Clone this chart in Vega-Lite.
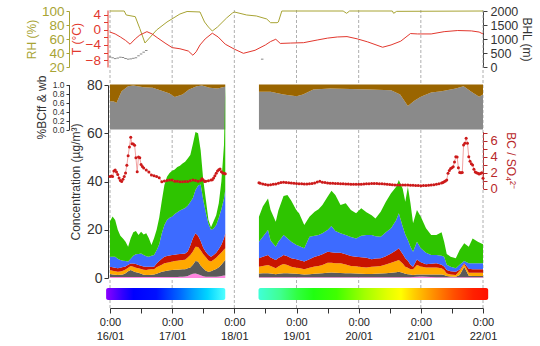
{
  "$schema": "https://vega.github.io/schema/vega-lite/v6.json",
  "width": 373,
  "height": 298,
  "autosize": "none",
  "padding": {"left": 110, "top": 10, "right": 57, "bottom": 38},
  "background": "white",
  "config": {
    "view": {"stroke": null},
    "font": "Liberation Sans",
    "axis": {"labelFont": "Liberation Sans", "titleFont": "Liberation Sans", "titleFontWeight": "normal", "grid": false, "labelFontSize": 13, "titleFontSize": 12}
  },
  "datasets": {
    "days": [
      {"t": "16/01 00:00"}, {"t": "17/01 00:00"}, {"t": "18/01 00:00"}, {"t": "19/01 00:00"},
      {"t": "20/01 00:00"}, {"t": "21/01 00:00"}, {"t": "22/01 00:00"}
    ],
    "rh": [
      {"t": "16/01 00:00", "rh": 100}, {"t": "16/01 05:30", "rh": 100}, {"t": "16/01 06:15", "rh": 94.3}, {"t": "16/01 09:45", "rh": 91.9},
      {"t": "16/01 11:30", "rh": 75}, {"t": "16/01 13:30", "rh": 54.3}, {"t": "16/01 18:00", "rh": 72.9}, {"t": "16/01 22:00", "rh": 84.3},
      {"t": "17/01 03:00", "rh": 95.7}, {"t": "17/01 05:45", "rh": 99.3}, {"t": "17/01 10:45", "rh": 98.6}, {"t": "17/01 12:30", "rh": 84.3},
      {"t": "17/01 14:00", "rh": 77.1}, {"t": "17/01 15:30", "rh": 71.4}, {"t": "17/01 17:30", "rh": 77.1}, {"t": "17/01 21:00", "rh": 90},
      {"t": "17/01 23:15", "rh": 97.1}, {"t": "18/01 00:00", "rh": 98.6}, {"t": "18/01 04:45", "rh": 94.3}, {"t": "18/01 08:30", "rh": 92.9},
      {"t": "18/01 12:30", "rh": 88.6}, {"t": "18/01 14:00", "rh": 83.3}, {"t": "18/01 16:30", "rh": 83.3}, {"t": "18/01 17:00", "rh": 84.3},
      {"t": "18/01 18:20", "rh": 100}, {"t": "19/01 18:00", "rh": 100}, {"t": "19/01 19:20", "rh": 96.7}, {"t": "19/01 20:30", "rh": 100},
      {"t": "20/01 13:00", "rh": 100}, {"t": "20/01 13:30", "rh": 96.7}, {"t": "20/01 14:40", "rh": 99.5}, {"t": "22/01 00:00", "rh": 100}
    ],
    "temp": [
      {"t": "16/01 00:00", "T": -0.6}, {"t": "16/01 02:00", "T": -1.1}, {"t": "16/01 04:00", "T": -1.9}, {"t": "16/01 06:00", "T": -2.8},
      {"t": "16/01 07:45", "T": -3.8}, {"t": "16/01 09:45", "T": -2.4}, {"t": "16/01 11:30", "T": -1.4}, {"t": "16/01 14:15", "T": -0.5},
      {"t": "16/01 16:15", "T": -1.1}, {"t": "16/01 18:30", "T": -2.2}, {"t": "16/01 21:15", "T": -3.5}, {"t": "17/01 00:00", "T": -4.7},
      {"t": "17/01 03:00", "T": -5.0}, {"t": "17/01 06:15", "T": -5.6}, {"t": "17/01 08:00", "T": -6.7}, {"t": "17/01 09:15", "T": -5.8},
      {"t": "17/01 10:45", "T": -4.0}, {"t": "17/01 12:45", "T": -2.4}, {"t": "17/01 15:30", "T": -0.9}, {"t": "17/01 17:45", "T": -1.9},
      {"t": "17/01 20:30", "T": -3.8}, {"t": "18/01 00:00", "T": -5.1}, {"t": "18/01 03:30", "T": -6.2}, {"t": "18/01 08:00", "T": -5.4},
      {"t": "18/01 12:00", "T": -4.0}, {"t": "18/01 14:00", "T": -3.1}, {"t": "18/01 16:00", "T": -2.5}, {"t": "18/01 17:45", "T": -3.6},
      {"t": "18/01 21:45", "T": -3.5}, {"t": "19/01 02:45", "T": -3.4}, {"t": "19/01 08:00", "T": -2.7}, {"t": "19/01 12:00", "T": -2.2},
      {"t": "19/01 15:45", "T": -1.9}, {"t": "19/01 19:30", "T": -1.8}, {"t": "19/01 23:30", "T": -2.4}, {"t": "20/01 03:30", "T": -3.2},
      {"t": "20/01 09:15", "T": -4.6}, {"t": "20/01 12:30", "T": -4.0}, {"t": "20/01 16:15", "T": -3.0}, {"t": "20/01 20:00", "T": -1.0},
      {"t": "20/01 22:45", "T": -1.1}, {"t": "21/01 04:00", "T": -1.1}, {"t": "21/01 09:00", "T": -0.5}, {"t": "21/01 14:15", "T": -0.2},
      {"t": "21/01 19:30", "T": -0.3}, {"t": "21/01 22:30", "T": -0.6}, {"t": "22/01 00:00", "T": -1.1}
    ],
    "bhl": [
      {"t": "16/01 00:00", "bhl": 360}, {"t": "16/01 01:00", "bhl": 330}, {"t": "16/01 02:00", "bhl": 300}, {"t": "16/01 03:00", "bhl": 320},
      {"t": "16/01 04:00", "bhl": 350}, {"t": "16/01 05:00", "bhl": 340}, {"t": "16/01 06:00", "bhl": 300}, {"t": "16/01 07:00", "bhl": 280},
      {"t": "16/01 08:00", "bhl": 290}, {"t": "16/01 09:00", "bhl": 310}, {"t": "16/01 10:00", "bhl": 330}, {"t": "16/01 11:00", "bhl": 400},
      {"t": "16/01 12:00", "bhl": 460}, {"t": "16/01 13:00", "bhl": 530}, {"t": "16/01 14:00", "bhl": 590}, {"t": "18/01 10:45", "bhl": 280}
    ],
    "bcA": [
      {"t": "16/01 00:00", "ff": 0.63, "wb": 0.37}, {"t": "16/01 01:30", "ff": 0.62, "wb": 0.38}, {"t": "16/01 02:30", "ff": 0.59, "wb": 0.41},
      {"t": "16/01 03:30", "ff": 0.72, "wb": 0.28}, {"t": "16/01 04:30", "ff": 0.85, "wb": 0.15}, {"t": "16/01 07:00", "ff": 0.96, "wb": 0.04},
      {"t": "16/01 09:00", "ff": 0.98, "wb": 0.02}, {"t": "16/01 13:00", "ff": 0.94, "wb": 0.06}, {"t": "16/01 16:30", "ff": 0.93, "wb": 0.07},
      {"t": "16/01 20:30", "ff": 0.85, "wb": 0.15}, {"t": "16/01 23:00", "ff": 0.80, "wb": 0.20}, {"t": "17/01 01:00", "ff": 0.72, "wb": 0.28},
      {"t": "17/01 04:00", "ff": 0.78, "wb": 0.22}, {"t": "17/01 06:30", "ff": 0.89, "wb": 0.11}, {"t": "17/01 09:30", "ff": 0.96, "wb": 0.04},
      {"t": "17/01 11:30", "ff": 0.98, "wb": 0.02}, {"t": "17/01 14:30", "ff": 0.93, "wb": 0.07}, {"t": "17/01 17:30", "ff": 0.91, "wb": 0.09},
      {"t": "17/01 19:30", "ff": 0.94, "wb": 0.06}, {"t": "17/01 20:30", "ff": 0.95, "wb": 0.05}
    ],
    "bcB": [
      {"t": "18/01 09:30", "ff": 0.84, "wb": 0.16}, {"t": "18/01 14:00", "ff": 0.84, "wb": 0.16}, {"t": "18/01 19:00", "ff": 0.78, "wb": 0.22},
      {"t": "19/01 00:00", "ff": 0.74, "wb": 0.26}, {"t": "19/01 02:30", "ff": 0.78, "wb": 0.22}, {"t": "19/01 06:30", "ff": 0.89, "wb": 0.11},
      {"t": "19/01 13:00", "ff": 0.91, "wb": 0.09}, {"t": "19/01 21:00", "ff": 0.90, "wb": 0.10}, {"t": "20/01 04:30", "ff": 0.89, "wb": 0.11},
      {"t": "20/01 12:30", "ff": 0.87, "wb": 0.13}, {"t": "20/01 16:00", "ff": 0.78, "wb": 0.22}, {"t": "20/01 19:00", "ff": 0.52, "wb": 0.48},
      {"t": "20/01 21:30", "ff": 0.64, "wb": 0.36}, {"t": "21/01 00:00", "ff": 0.73, "wb": 0.27}, {"t": "21/01 04:00", "ff": 0.82, "wb": 0.18},
      {"t": "21/01 08:00", "ff": 0.85, "wb": 0.15}, {"t": "21/01 13:30", "ff": 0.91, "wb": 0.09}, {"t": "21/01 16:30", "ff": 0.96, "wb": 0.04},
      {"t": "21/01 19:30", "ff": 0.84, "wb": 0.16}, {"t": "21/01 22:30", "ff": 0.73, "wb": 0.27}, {"t": "22/01 00:00", "ff": 0.78, "wb": 0.22}
    ],
    "species": [
      {"species": "Chl", "rank": 1}, {"species": "BC", "rank": 2}, {"species": "NH4", "rank": 3},
      {"species": "SO4", "rank": 4}, {"species": "NO3", "rank": 5}, {"species": "Org", "rank": 6}
    ],
    "aerA": [
      {"t": "16/01 00:00", "Chl": 0.4, "BC": 1.3, "NH4": 1.6, "SO4": 1.4, "NO3": 4.1, "Org": 14.7},
      {"t": "16/01 01:00", "Chl": 0.4, "BC": 1.1, "NH4": 1.5, "SO4": 1.5, "NO3": 4.3, "Org": 16.7},
      {"t": "16/01 02:00", "Chl": 0.4, "BC": 0.9, "NH4": 1.5, "SO4": 1.4, "NO3": 4.6, "Org": 15.2},
      {"t": "16/01 03:00", "Chl": 0.4, "BC": 0.8, "NH4": 1.4, "SO4": 1.4, "NO3": 4.0, "Org": 12.0},
      {"t": "16/01 04:00", "Chl": 0.4, "BC": 0.9, "NH4": 1.4, "SO4": 1.5, "NO3": 3.3, "Org": 10.0},
      {"t": "16/01 05:00", "Chl": 0.4, "BC": 1.1, "NH4": 1.5, "SO4": 1.6, "NO3": 2.6, "Org": 9.2},
      {"t": "16/01 06:00", "Chl": 0.4, "BC": 1.6, "NH4": 1.5, "SO4": 1.3, "NO3": 2.2, "Org": 8.0},
      {"t": "16/01 07:00", "Chl": 0.4, "BC": 2.4, "NH4": 1.5, "SO4": 1.2, "NO3": 1.3, "Org": 6.2},
      {"t": "16/01 08:00", "Chl": 0.4, "BC": 2.9, "NH4": 1.7, "SO4": 1.0, "NO3": 2.0, "Org": 8.5},
      {"t": "16/01 09:00", "Chl": 0.4, "BC": 2.4, "NH4": 1.9, "SO4": 1.3, "NO3": 3.2, "Org": 9.8},
      {"t": "16/01 10:00", "Chl": 0.4, "BC": 2.0, "NH4": 1.9, "SO4": 1.5, "NO3": 4.0, "Org": 9.7},
      {"t": "16/01 11:00", "Chl": 0.4, "BC": 1.8, "NH4": 1.8, "SO4": 1.4, "NO3": 4.6, "Org": 7.8},
      {"t": "16/01 12:00", "Chl": 0.4, "BC": 1.4, "NH4": 1.9, "SO4": 1.4, "NO3": 5.1, "Org": 9.0},
      {"t": "16/01 13:00", "Chl": 0.4, "BC": 0.9, "NH4": 2.1, "SO4": 1.4, "NO3": 4.7, "Org": 8.5},
      {"t": "16/01 14:00", "Chl": 0.4, "BC": 0.8, "NH4": 2.1, "SO4": 1.4, "NO3": 4.3, "Org": 9.5},
      {"t": "16/01 15:00", "Chl": 0.4, "BC": 0.8, "NH4": 2.3, "SO4": 1.2, "NO3": 4.1, "Org": 7.7},
      {"t": "16/01 16:00", "Chl": 0.4, "BC": 0.9, "NH4": 2.3, "SO4": 1.1, "NO3": 4.5, "Org": 4.5},
      {"t": "16/01 17:00", "Chl": 0.4, "BC": 1.1, "NH4": 2.1, "SO4": 1.1, "NO3": 4.8, "Org": 7.0},
      {"t": "16/01 18:00", "Chl": 0.4, "BC": 1.4, "NH4": 2.7, "SO4": 1.5, "NO3": 5.5, "Org": 8.5},
      {"t": "16/01 19:00", "Chl": 0.4, "BC": 1.8, "NH4": 2.8, "SO4": 2.0, "NO3": 7.0, "Org": 11.0},
      {"t": "16/01 20:00", "Chl": 0.4, "BC": 2.2, "NH4": 2.9, "SO4": 2.5, "NO3": 10.5, "Org": 13.5},
      {"t": "16/01 21:00", "Chl": 0.4, "BC": 2.4, "NH4": 3.3, "SO4": 2.7, "NO3": 13.2, "Org": 16.5},
      {"t": "16/01 22:00", "Chl": 0.4, "BC": 2.6, "NH4": 3.3, "SO4": 2.8, "NO3": 14.9, "Org": 18.0},
      {"t": "16/01 23:00", "Chl": 0.4, "BC": 2.8, "NH4": 3.3, "SO4": 2.8, "NO3": 15.7, "Org": 18.5},
      {"t": "17/01 00:00", "Chl": 0.4, "BC": 2.9, "NH4": 3.5, "SO4": 2.7, "NO3": 16.0, "Org": 19.0},
      {"t": "17/01 01:00", "Chl": 0.4, "BC": 3.0, "NH4": 3.6, "SO4": 2.6, "NO3": 16.9, "Org": 18.5},
      {"t": "17/01 02:00", "Chl": 0.4, "BC": 3.0, "NH4": 3.8, "SO4": 2.6, "NO3": 17.5, "Org": 18.7},
      {"t": "17/01 03:00", "Chl": 0.5, "BC": 3.0, "NH4": 3.9, "SO4": 2.6, "NO3": 18.0, "Org": 18.5},
      {"t": "17/01 04:00", "Chl": 0.5, "BC": 3.1, "NH4": 3.9, "SO4": 2.6, "NO3": 18.4, "Org": 19.0},
      {"t": "17/01 05:00", "Chl": 0.6, "BC": 3.0, "NH4": 4.0, "SO4": 2.6, "NO3": 18.8, "Org": 19.2},
      {"t": "17/01 06:00", "Chl": 0.8, "BC": 3.2, "NH4": 4.5, "SO4": 2.5, "NO3": 19.0, "Org": 19.5},
      {"t": "17/01 07:00", "Chl": 1.3, "BC": 3.1, "NH4": 5.1, "SO4": 4.0, "NO3": 18.0, "Org": 19.5},
      {"t": "17/01 08:00", "Chl": 1.8, "BC": 3.7, "NH4": 5.5, "SO4": 5.5, "NO3": 16.7, "Org": 22.3},
      {"t": "17/01 09:00", "Chl": 1.9, "BC": 5.1, "NH4": 6.0, "SO4": 5.5, "NO3": 18.0, "Org": 24.0},
      {"t": "17/01 10:00", "Chl": 1.6, "BC": 5.2, "NH4": 6.0, "SO4": 4.7, "NO3": 20.8, "Org": 21.7},
      {"t": "17/01 11:00", "Chl": 1.1, "BC": 4.1, "NH4": 6.3, "SO4": 3.8, "NO3": 23.5, "Org": 14.2},
      {"t": "17/01 12:00", "Chl": 0.7, "BC": 3.3, "NH4": 5.8, "SO4": 2.7, "NO3": 19.8, "Org": 8.3},
      {"t": "17/01 13:00", "Chl": 0.5, "BC": 2.5, "NH4": 5.6, "SO4": 2.2, "NO3": 16.2, "Org": 5.5},
      {"t": "17/01 14:00", "Chl": 0.5, "BC": 2.1, "NH4": 4.7, "SO4": 2.2, "NO3": 13.0, "Org": 1.5},
      {"t": "17/01 15:00", "Chl": 0.5, "BC": 2.3, "NH4": 4.0, "SO4": 2.0, "NO3": 11.2, "Org": 1.0},
      {"t": "17/01 16:00", "Chl": 0.5, "BC": 2.8, "NH4": 4.3, "SO4": 1.9, "NO3": 11.0, "Org": 3.0},
      {"t": "17/01 17:00", "Chl": 0.5, "BC": 3.2, "NH4": 4.7, "SO4": 2.1, "NO3": 11.5, "Org": 4.0},
      {"t": "17/01 18:00", "Chl": 0.6, "BC": 3.9, "NH4": 5.0, "SO4": 2.5, "NO3": 13.0, "Org": 6.0},
      {"t": "17/01 19:00", "Chl": 0.8, "BC": 4.7, "NH4": 5.1, "SO4": 3.2, "NO3": 14.7, "Org": 11.5},
      {"t": "17/01 20:00", "Chl": 1.0, "BC": 5.8, "NH4": 5.0, "SO4": 4.7, "NO3": 16.5, "Org": 22.0},
      {"t": "17/01 20:30", "Chl": 1.0, "BC": 6.5, "NH4": 4.8, "SO4": 6.2, "NO3": 18.0, "Org": 43.5}
    ],
    "aerB": [
      {"t": "18/01 09:30", "Chl": 0.3, "BC": 1.6, "NH4": 2.8, "SO4": 3.5, "NO3": 6.8, "Org": 10.4},
      {"t": "18/01 11:00", "Chl": 0.3, "BC": 1.7, "NH4": 3.0, "SO4": 3.8, "NO3": 8.3, "Org": 12.5},
      {"t": "18/01 13:00", "Chl": 0.3, "BC": 1.7, "NH4": 3.4, "SO4": 4.1, "NO3": 10.4, "Org": 13.1},
      {"t": "18/01 14:00", "Chl": 0.3, "BC": 1.6, "NH4": 3.1, "SO4": 3.5, "NO3": 7.0, "Org": 12.7},
      {"t": "18/01 16:00", "Chl": 0.3, "BC": 1.3, "NH4": 2.4, "SO4": 3.5, "NO3": 5.5, "Org": 10.3},
      {"t": "18/01 17:00", "Chl": 0.3, "BC": 1.5, "NH4": 3.0, "SO4": 3.5, "NO3": 6.7, "Org": 13.0},
      {"t": "18/01 18:00", "Chl": 0.3, "BC": 1.6, "NH4": 3.5, "SO4": 3.4, "NO3": 7.6, "Org": 14.6},
      {"t": "18/01 19:00", "Chl": 0.3, "BC": 1.7, "NH4": 3.8, "SO4": 3.7, "NO3": 8.3, "Org": 16.2},
      {"t": "18/01 20:30", "Chl": 0.3, "BC": 1.7, "NH4": 3.4, "SO4": 3.6, "NO3": 7.5, "Org": 17.9},
      {"t": "18/01 22:00", "Chl": 0.3, "BC": 1.6, "NH4": 2.8, "SO4": 3.5, "NO3": 6.8, "Org": 17.0},
      {"t": "19/01 00:00", "Chl": 0.3, "BC": 1.5, "NH4": 2.5, "SO4": 3.5, "NO3": 5.9, "Org": 14.3},
      {"t": "19/01 01:00", "Chl": 0.3, "BC": 1.4, "NH4": 2.4, "SO4": 3.4, "NO3": 5.8, "Org": 13.5},
      {"t": "19/01 03:00", "Chl": 0.3, "BC": 1.2, "NH4": 2.1, "SO4": 3.2, "NO3": 5.5, "Org": 9.7},
      {"t": "19/01 05:00", "Chl": 0.3, "BC": 1.3, "NH4": 2.7, "SO4": 3.5, "NO3": 9.3, "Org": 8.3},
      {"t": "19/01 07:00", "Chl": 0.3, "BC": 1.5, "NH4": 3.0, "SO4": 4.0, "NO3": 8.7, "Org": 10.0},
      {"t": "19/01 08:30", "Chl": 0.3, "BC": 1.6, "NH4": 3.1, "SO4": 4.2, "NO3": 8.6, "Org": 10.7},
      {"t": "19/01 10:00", "Chl": 0.3, "BC": 1.7, "NH4": 3.4, "SO4": 4.4, "NO3": 8.7, "Org": 11.8},
      {"t": "19/01 12:00", "Chl": 0.3, "BC": 1.9, "NH4": 4.1, "SO4": 4.6, "NO3": 9.0, "Org": 13.8},
      {"t": "19/01 13:30", "Chl": 0.3, "BC": 2.0, "NH4": 4.0, "SO4": 4.4, "NO3": 10.9, "Org": 14.6},
      {"t": "19/01 15:00", "Chl": 0.3, "BC": 1.9, "NH4": 3.9, "SO4": 4.4, "NO3": 9.0, "Org": 14.9},
      {"t": "19/01 17:00", "Chl": 0.3, "BC": 1.8, "NH4": 4.0, "SO4": 4.4, "NO3": 8.0, "Org": 11.8},
      {"t": "19/01 19:00", "Chl": 0.3, "BC": 1.7, "NH4": 3.6, "SO4": 4.2, "NO3": 8.0, "Org": 13.2},
      {"t": "19/01 21:00", "Chl": 0.3, "BC": 1.7, "NH4": 3.0, "SO4": 4.1, "NO3": 7.9, "Org": 11.2},
      {"t": "19/01 23:00", "Chl": 0.3, "BC": 1.6, "NH4": 3.0, "SO4": 3.9, "NO3": 7.6, "Org": 10.4},
      {"t": "20/01 01:00", "Chl": 0.3, "BC": 1.5, "NH4": 2.8, "SO4": 4.0, "NO3": 8.9, "Org": 11.4},
      {"t": "20/01 03:00", "Chl": 0.3, "BC": 1.4, "NH4": 2.7, "SO4": 4.0, "NO3": 9.4, "Org": 9.5},
      {"t": "20/01 05:00", "Chl": 0.3, "BC": 1.4, "NH4": 3.0, "SO4": 3.1, "NO3": 10.0, "Org": 8.2},
      {"t": "20/01 06:30", "Chl": 0.3, "BC": 1.5, "NH4": 3.0, "SO4": 3.3, "NO3": 9.2, "Org": 7.4},
      {"t": "20/01 08:30", "Chl": 0.3, "BC": 1.6, "NH4": 3.1, "SO4": 3.2, "NO3": 8.9, "Org": 10.4},
      {"t": "20/01 10:30", "Chl": 0.3, "BC": 1.7, "NH4": 3.6, "SO4": 3.4, "NO3": 10.0, "Org": 12.6},
      {"t": "20/01 12:30", "Chl": 0.3, "BC": 1.9, "NH4": 4.1, "SO4": 3.9, "NO3": 10.4, "Org": 14.5},
      {"t": "20/01 14:30", "Chl": 0.3, "BC": 2.1, "NH4": 4.6, "SO4": 4.5, "NO3": 12.5, "Org": 13.8},
      {"t": "20/01 15:30", "Chl": 0.3, "BC": 2.3, "NH4": 4.9, "SO4": 4.8, "NO3": 14.5, "Org": 13.8},
      {"t": "20/01 17:00", "Chl": 0.3, "BC": 1.9, "NH4": 3.8, "SO4": 4.0, "NO3": 11.3, "Org": 15.7},
      {"t": "20/01 18:00", "Chl": 0.3, "BC": 1.5, "NH4": 2.9, "SO4": 3.5, "NO3": 9.8, "Org": 13.6},
      {"t": "20/01 19:00", "Chl": 0.3, "BC": 1.3, "NH4": 2.6, "SO4": 3.0, "NO3": 8.5, "Org": 22.1},
      {"t": "20/01 20:00", "Chl": 0.3, "BC": 1.1, "NH4": 2.2, "SO4": 1.9, "NO3": 7.5, "Org": 18.0},
      {"t": "20/01 21:00", "Chl": 0.4, "BC": 0.8, "NH4": 2.4, "SO4": 1.1, "NO3": 6.2, "Org": 11.8},
      {"t": "20/01 22:30", "Chl": 0.5, "BC": 1.0, "NH4": 3.9, "SO4": 2.3, "NO3": 7.3, "Org": 13.2},
      {"t": "21/01 00:00", "Chl": 0.6, "BC": 0.9, "NH4": 3.3, "SO4": 1.7, "NO3": 5.8, "Org": 13.1},
      {"t": "21/01 02:00", "Chl": 0.5, "BC": 1.0, "NH4": 2.9, "SO4": 1.3, "NO3": 4.8, "Org": 10.1},
      {"t": "21/01 04:00", "Chl": 0.4, "BC": 1.1, "NH4": 2.9, "SO4": 1.5, "NO3": 3.6, "Org": 8.3},
      {"t": "21/01 06:00", "Chl": 0.3, "BC": 1.2, "NH4": 2.9, "SO4": 1.7, "NO3": 3.4, "Org": 8.3},
      {"t": "21/01 08:00", "Chl": 0.3, "BC": 1.1, "NH4": 2.6, "SO4": 1.5, "NO3": 3.7, "Org": 9.8},
      {"t": "21/01 09:00", "Chl": 0.3, "BC": 0.9, "NH4": 2.1, "SO4": 1.5, "NO3": 4.0, "Org": 6.2},
      {"t": "21/01 10:00", "Chl": 0.3, "BC": 0.5, "NH4": 1.1, "SO4": 1.4, "NO3": 2.2, "Org": 4.5},
      {"t": "21/01 11:30", "Chl": 0.3, "BC": 0.3, "NH4": 0.9, "SO4": 1.3, "NO3": 1.9, "Org": 4.1},
      {"t": "21/01 13:30", "Chl": 0.3, "BC": 0.2, "NH4": 0.7, "SO4": 1.4, "NO3": 1.4, "Org": 4.2},
      {"t": "21/01 15:00", "Chl": 0.3, "BC": 0.9, "NH4": 1.8, "SO4": 0.5, "NO3": 2.0, "Org": 6.1},
      {"t": "21/01 16:45", "Chl": 0.3, "BC": 4.4, "NH4": 1.1, "SO4": 0.4, "NO3": 0.8, "Org": 7.4},
      {"t": "21/01 18:30", "Chl": 0.3, "BC": 0.6, "NH4": 1.3, "SO4": 1.6, "NO3": 2.3, "Org": 6.9},
      {"t": "21/01 20:00", "Chl": 0.3, "BC": 0.5, "NH4": 1.4, "SO4": 1.4, "NO3": 2.5, "Org": 10.3},
      {"t": "21/01 22:00", "Chl": 0.3, "BC": 0.5, "NH4": 1.4, "SO4": 1.4, "NO3": 2.5, "Org": 8.9},
      {"t": "22/01 00:00", "Chl": 0.3, "BC": 0.5, "NH4": 1.4, "SO4": 1.4, "NO3": 2.5, "Org": 7.9}
    ],
    "ratioA": [
      {"t": "16/01 00:00", "r": 1.5}, {"t": "16/01 00:30", "r": 1.55}, {"t": "16/01 01:00", "r": 1.5}, {"t": "16/01 01:30", "r": 2.2},
      {"t": "16/01 02:00", "r": 2.3}, {"t": "16/01 02:30", "r": 2.05}, {"t": "16/01 03:00", "r": 1.75}, {"t": "16/01 03:30", "r": 1.3},
      {"t": "16/01 04:00", "r": 1.0}, {"t": "16/01 04:30", "r": 0.88}, {"t": "16/01 05:00", "r": 1.15}, {"t": "16/01 05:30", "r": 1.5},
      {"t": "16/01 06:00", "r": 1.95}, {"t": "16/01 06:30", "r": 2.9}, {"t": "16/01 07:00", "r": 4.1}, {"t": "16/01 07:30", "r": 5.2},
      {"t": "16/01 08:00", "r": 6.4}, {"t": "16/01 08:30", "r": 5.6}, {"t": "16/01 09:00", "r": 5.55}, {"t": "16/01 09:30", "r": 5.4},
      {"t": "16/01 10:00", "r": 3.85}, {"t": "16/01 10:30", "r": 2.1}, {"t": "16/01 11:00", "r": 3.95}, {"t": "16/01 11:30", "r": 3.85},
      {"t": "16/01 12:00", "r": 3.0}, {"t": "16/01 12:30", "r": 2.75}, {"t": "16/01 13:00", "r": 2.55}, {"t": "16/01 14:00", "r": 2.3},
      {"t": "16/01 15:00", "r": 2.05}, {"t": "16/01 16:00", "r": 1.7}, {"t": "16/01 17:00", "r": 1.6}, {"t": "16/01 18:00", "r": 1.5},
      {"t": "16/01 19:00", "r": 1.35}, {"t": "16/01 20:00", "r": 0.85}, {"t": "16/01 21:00", "r": 0.95}, {"t": "16/01 22:00", "r": 1.0},
      {"t": "16/01 23:00", "r": 1.05}, {"t": "17/01 00:00", "r": 1.05}, {"t": "17/01 01:00", "r": 0.92}, {"t": "17/01 02:00", "r": 0.9},
      {"t": "17/01 03:00", "r": 0.85}, {"t": "17/01 04:00", "r": 0.84}, {"t": "17/01 05:00", "r": 0.86}, {"t": "17/01 06:00", "r": 0.88},
      {"t": "17/01 07:00", "r": 0.98}, {"t": "17/01 08:00", "r": 1.05}, {"t": "17/01 09:00", "r": 1.0}, {"t": "17/01 10:00", "r": 0.92},
      {"t": "17/01 11:00", "r": 1.0}, {"t": "17/01 11:30", "r": 1.22}, {"t": "17/01 12:00", "r": 1.05}, {"t": "17/01 12:30", "r": 0.88},
      {"t": "17/01 13:00", "r": 0.9}, {"t": "17/01 14:00", "r": 0.97}, {"t": "17/01 15:00", "r": 1.05}, {"t": "17/01 15:30", "r": 1.1},
      {"t": "17/01 16:00", "r": 1.3}, {"t": "17/01 16:30", "r": 1.6}, {"t": "17/01 17:00", "r": 1.9}, {"t": "17/01 17:30", "r": 2.2},
      {"t": "17/01 18:00", "r": 2.35}, {"t": "17/01 18:30", "r": 2.45}, {"t": "17/01 19:00", "r": 2.1}, {"t": "17/01 19:30", "r": 1.95},
      {"t": "17/01 20:00", "r": 1.9}, {"t": "17/01 20:30", "r": 1.85}
    ],
    "ratioB": [
      {"t": "18/01 09:30", "r": 0.73}, {"t": "18/01 10:00", "r": 0.65}, {"t": "18/01 11:00", "r": 0.55}, {"t": "18/01 12:00", "r": 0.5},
      {"t": "18/01 13:00", "r": 0.45}, {"t": "18/01 14:00", "r": 0.48}, {"t": "18/01 15:00", "r": 0.52}, {"t": "18/01 16:00", "r": 0.56},
      {"t": "18/01 17:00", "r": 0.65}, {"t": "18/01 18:00", "r": 0.75}, {"t": "18/01 19:00", "r": 0.77}, {"t": "18/01 20:00", "r": 0.75},
      {"t": "18/01 21:00", "r": 0.73}, {"t": "18/01 22:00", "r": 0.7}, {"t": "18/01 23:00", "r": 0.66}, {"t": "19/01 00:00", "r": 0.64},
      {"t": "19/01 01:00", "r": 0.6}, {"t": "19/01 02:00", "r": 0.58}, {"t": "19/01 03:00", "r": 0.56}, {"t": "19/01 04:00", "r": 0.56},
      {"t": "19/01 05:00", "r": 0.6}, {"t": "19/01 06:00", "r": 0.64}, {"t": "19/01 07:00", "r": 0.68}, {"t": "19/01 08:00", "r": 0.8},
      {"t": "19/01 09:00", "r": 0.9}, {"t": "19/01 10:00", "r": 0.77}, {"t": "19/01 11:00", "r": 0.74}, {"t": "19/01 12:00", "r": 0.7},
      {"t": "19/01 13:00", "r": 0.67}, {"t": "19/01 14:00", "r": 0.65}, {"t": "19/01 15:00", "r": 0.63}, {"t": "19/01 16:00", "r": 0.62},
      {"t": "19/01 17:00", "r": 0.6}, {"t": "19/01 18:00", "r": 0.6}, {"t": "19/01 19:00", "r": 0.57}, {"t": "19/01 20:00", "r": 0.55},
      {"t": "19/01 21:00", "r": 0.53}, {"t": "19/01 22:00", "r": 0.52}, {"t": "19/01 23:00", "r": 0.52}, {"t": "20/01 00:00", "r": 0.52},
      {"t": "20/01 01:00", "r": 0.52}, {"t": "20/01 02:00", "r": 0.55}, {"t": "20/01 03:00", "r": 0.58}, {"t": "20/01 04:00", "r": 0.6},
      {"t": "20/01 05:00", "r": 0.62}, {"t": "20/01 06:00", "r": 0.64}, {"t": "20/01 07:00", "r": 0.64}, {"t": "20/01 08:00", "r": 0.6},
      {"t": "20/01 09:00", "r": 0.58}, {"t": "20/01 10:00", "r": 0.56}, {"t": "20/01 11:00", "r": 0.53}, {"t": "20/01 12:00", "r": 0.5},
      {"t": "20/01 13:00", "r": 0.47}, {"t": "20/01 14:00", "r": 0.44}, {"t": "20/01 15:00", "r": 0.44}, {"t": "20/01 16:00", "r": 0.43},
      {"t": "20/01 17:00", "r": 0.44}, {"t": "20/01 18:00", "r": 0.44}, {"t": "20/01 19:00", "r": 0.44}, {"t": "20/01 20:00", "r": 0.42},
      {"t": "20/01 21:00", "r": 0.4}, {"t": "20/01 22:00", "r": 0.38}, {"t": "20/01 23:00", "r": 0.36}, {"t": "21/01 00:00", "r": 0.35},
      {"t": "21/01 01:00", "r": 0.37}, {"t": "21/01 02:00", "r": 0.38}, {"t": "21/01 03:00", "r": 0.4}, {"t": "21/01 04:00", "r": 0.44},
      {"t": "21/01 05:00", "r": 0.48}, {"t": "21/01 06:00", "r": 0.54}, {"t": "21/01 07:00", "r": 0.6}, {"t": "21/01 08:00", "r": 0.68},
      {"t": "21/01 08:30", "r": 0.75}, {"t": "21/01 09:00", "r": 0.85}, {"t": "21/01 09:30", "r": 0.95}, {"t": "21/01 10:00", "r": 1.06},
      {"t": "21/01 10:30", "r": 1.9}, {"t": "21/01 11:00", "r": 2.25}, {"t": "21/01 11:30", "r": 2.5}, {"t": "21/01 12:00", "r": 2.6},
      {"t": "21/01 12:30", "r": 2.73}, {"t": "21/01 13:00", "r": 3.3}, {"t": "21/01 13:30", "r": 3.98}, {"t": "21/01 14:00", "r": 3.95},
      {"t": "21/01 14:30", "r": 2.6}, {"t": "21/01 15:00", "r": 2.0}, {"t": "21/01 15:30", "r": 1.98}, {"t": "21/01 16:00", "r": 2.0},
      {"t": "21/01 16:30", "r": 5.44}, {"t": "21/01 17:00", "r": 5.65}, {"t": "21/01 17:30", "r": 6.27}, {"t": "21/01 18:00", "r": 5.65},
      {"t": "21/01 18:30", "r": 3.98}, {"t": "21/01 19:00", "r": 3.4}, {"t": "21/01 19:30", "r": 3.1}, {"t": "21/01 20:00", "r": 2.94},
      {"t": "21/01 20:30", "r": 2.4}, {"t": "21/01 21:00", "r": 2.05}, {"t": "21/01 21:30", "r": 1.98}, {"t": "21/01 22:00", "r": 1.9},
      {"t": "21/01 22:30", "r": 1.8}, {"t": "21/01 23:00", "r": 1.88}, {"t": "21/01 23:30", "r": 1.98}, {"t": "22/01 00:00", "r": 1.27}
    ],
    "periodA": [{"t": "15/01 22:30", "t2": "17/01 20:30"}],
    "periodB": [{"t": "18/01 09:20", "t2": "22/01 02:00"}]
  },
  "encoding": {
    "x": {
      "field": "t",
      "type": "temporal",
      "scale": {"type": "utc", "domain": [{"year": 1900, "month": 1, "date": 16, "utc": true}, {"year": 1900, "month": 1, "date": 22, "utc": true}]},
      "axis": {
        "title": null,
        "values": [
          {"year": 1900, "month": 1, "date": 16, "hours": 0, "utc": true}, {"year": 1900, "month": 1, "date": 16, "hours": 12, "utc": true},
          {"year": 1900, "month": 1, "date": 17, "hours": 0, "utc": true}, {"year": 1900, "month": 1, "date": 17, "hours": 12, "utc": true},
          {"year": 1900, "month": 1, "date": 18, "hours": 0, "utc": true}, {"year": 1900, "month": 1, "date": 18, "hours": 12, "utc": true},
          {"year": 1900, "month": 1, "date": 19, "hours": 0, "utc": true}, {"year": 1900, "month": 1, "date": 19, "hours": 12, "utc": true},
          {"year": 1900, "month": 1, "date": 20, "hours": 0, "utc": true}, {"year": 1900, "month": 1, "date": 20, "hours": 12, "utc": true},
          {"year": 1900, "month": 1, "date": 21, "hours": 0, "utc": true}, {"year": 1900, "month": 1, "date": 21, "hours": 12, "utc": true},
          {"year": 1900, "month": 1, "date": 22, "hours": 0, "utc": true}
        ],
        "labelExpr": "utchours(datum.value) == 0 ? [utcFormat(datum.value, '%-H:%M'), utcFormat(datum.value, '%d/%m')] : ''",
        "labelFontSize": 11,
        "labelColor": "#222222",
        "labelLineHeight": 14,
        "labelPadding": 3,
        "labelFlush": false,
        "labelOverlap": false,
        "labelAngle": 0,
        "domainColor": "#333333",
        "tickColor": "#333333",
        "tickSize": 5,
        "grid": false
      }
    }
  },
  "layer": [
    {
      "data": {"name": "days", "format": {"parse": {"t": "utc:'%d/%m %H:%M'"}}},
      "mark": {"type": "rule", "color": "#9a9a9a", "strokeDash": [3, 2], "strokeWidth": 0.8},
      "encoding": {}
    },
    {
      "data": {"name": "rh", "format": {"parse": {"t": "utc:'%d/%m %H:%M'"}}},
      "mark": {"type": "line", "color": "#a8a434", "strokeWidth": 1},
      "encoding": {
        "y": {
          "field": "rh", "type": "quantitative",
          "scale": {"domain": [20, 100], "range": [57, 1]},
          "axis": {"orient": "left", "offset": 41, "values": [20, 40, 60, 80, 100], "title": "RH (%)", "tickSize": 3, "labelPadding": 2, "labelOverlap": false,
                   "domainColor": "#a8a434", "tickColor": "#a8a434", "labelColor": "#a8a434", "titleColor": "#a8a434", "labelFontSize": 13.5, "titlePadding": 3}
        }
      }
    },
    {
      "data": {"name": "temp", "format": {"parse": {"t": "utc:'%d/%m %H:%M'"}}},
      "mark": {"type": "line", "color": "#e2382e", "strokeWidth": 1},
      "encoding": {
        "y": {
          "field": "T", "type": "quantitative",
          "scale": {"domain": [-9.8, 5.2], "range": [57, 0]},
          "axis": {"orient": "left", "offset": 2.5, "values": [-8, -6, -4, -2, 0, 2, 4], "labelExpr": "datum.value % 4 == 0 ? datum.label : ''",
                   "title": "T (°C)", "tickSize": 4, "labelOverlap": false,
                   "labelPadding": 3, "domainColor": "#e2382e", "tickColor": "#e2382e", "labelColor": "#e2382e", "titleColor": "#e2382e", "labelFontSize": 13.5, "titlePadding": 2}
        }
      }
    },
    {
      "data": {"name": "bhl", "format": {"parse": {"t": "utc:'%d/%m %H:%M'"}}},
      "mark": {"type": "tick", "orient": "horizontal", "size": 2.5, "thickness": 1, "color": "#555555"},
      "encoding": {
        "y": {
          "field": "bhl", "type": "quantitative",
          "scale": {"domain": [0, 2000], "range": [57, 1]},
          "axis": {"orient": "right", "offset": 0, "values": [0, 500, 1000, 1500, 2000], "format": "d", "title": "BHL (m)", "tickSize": 4, "labelPadding": 3, "labelOverlap": false,
                   "domainColor": "#404040", "tickColor": "#404040", "labelColor": "#333333", "titleColor": "#333333", "labelFontSize": 12.5, "titlePadding": 2}
        }
      }
    },
    {
      "data": {"name": "bcA", "format": {"parse": {"t": "utc:'%d/%m %H:%M'"}}},
      "transform": [{"fold": ["ff", "wb"], "as": ["part", "frac"]}],
      "mark": {"type": "area", "interpolate": "linear"},
      "encoding": {
        "y": {
          "field": "frac", "type": "quantitative", "stack": "zero",
          "scale": {"domain": [0, 1], "range": [119.5, 74.5]},
          "axis": {"orient": "left", "offset": 41, "values": [0, 0.2, 0.4, 0.6, 0.8, 1], "format": ".1f", "title": "%BCff & wb", "tickSize": 3, "labelPadding": 2, "labelOverlap": false,
                   "domainColor": "#333333", "tickColor": "#333333", "labelColor": "#333333", "titleColor": "#333333", "labelFontSize": 8.5, "titlePadding": 4}
        },
        "color": {"field": "part", "type": "nominal", "scale": {"domain": ["ff", "wb"], "range": ["#8a8a8a", "#9a6500"]}, "legend": null},
        "order": {"field": "part", "sort": "ascending"}
      }
    },
    {
      "data": {"name": "bcB", "format": {"parse": {"t": "utc:'%d/%m %H:%M'"}}},
      "transform": [{"fold": ["ff", "wb"], "as": ["part", "frac"]}],
      "mark": {"type": "area", "interpolate": "linear"},
      "encoding": {
        "y": {"field": "frac", "type": "quantitative", "stack": "zero", "scale": {"domain": [0, 1], "range": [119.5, 74.5]}, "axis": null},
        "color": {"field": "part", "type": "nominal", "scale": {"domain": ["ff", "wb"], "range": ["#8a8a8a", "#9a6500"]}, "legend": null},
        "order": {"field": "part", "sort": "ascending"}
      }
    },
    {
      "data": {"name": "aerA", "format": {"parse": {"t": "utc:'%d/%m %H:%M'"}}},
      "transform": [
        {"fold": ["Chl", "BC", "NH4", "SO4", "NO3", "Org"], "as": ["species", "conc"]},
        {"lookup": "species", "from": {"data": {"name": "species"}, "key": "species", "fields": ["rank"]}}
      ],
      "mark": {"type": "area", "interpolate": "linear"},
      "encoding": {
        "y": {
          "field": "conc", "type": "quantitative", "stack": "zero",
          "scale": {"domain": [0, 80], "range": [268, 75]},
          "axis": {"orient": "left", "offset": 2, "values": [0, 20, 40, 60, 80], "title": "Concentration (µg/m³)", "tickSize": 4, "labelPadding": 2,
                   "domainColor": "#333333", "tickColor": "#333333", "labelColor": "#333333", "titleColor": "#333333", "labelFontSize": 14, "titlePadding": 4}
        },
        "color": {"field": "species", "type": "nominal",
                  "scale": {"domain": ["Chl", "BC", "NH4", "SO4", "NO3", "Org"], "range": ["#ff85e0", "#5a5a5a", "#ffa800", "#c81400", "#3d6bff", "#2ec400"]},
                  "legend": null},
        "order": {"field": "rank", "type": "quantitative", "sort": "ascending"}
      }
    },
    {
      "data": {"name": "aerB", "format": {"parse": {"t": "utc:'%d/%m %H:%M'"}}},
      "transform": [
        {"fold": ["Chl", "BC", "NH4", "SO4", "NO3", "Org"], "as": ["species", "conc"]},
        {"lookup": "species", "from": {"data": {"name": "species"}, "key": "species", "fields": ["rank"]}}
      ],
      "mark": {"type": "area", "interpolate": "linear"},
      "encoding": {
        "y": {"field": "conc", "type": "quantitative", "stack": "zero", "scale": {"domain": [0, 80], "range": [268, 75]}, "axis": null},
        "color": {"field": "species", "type": "nominal",
                  "scale": {"domain": ["Chl", "BC", "NH4", "SO4", "NO3", "Org"], "range": ["#ff85e0", "#5a5a5a", "#ffa800", "#c81400", "#3d6bff", "#2ec400"]},
                  "legend": null},
        "order": {"field": "rank", "type": "quantitative", "sort": "ascending"}
      }
    },
    {
      "data": {"name": "ratioA", "format": {"parse": {"t": "utc:'%d/%m %H:%M'"}}},
      "mark": {"type": "line", "color": "#f2a3a3", "strokeWidth": 1, "point": {"filled": true, "size": 9, "color": "#cc1a1a"}},
      "encoding": {
        "y": {
          "field": "r", "type": "quantitative",
          "scale": {"domain": [0, 7.1], "range": [178.5, 121.7]},
          "axis": {"orient": "right", "offset": 0, "values": [0, 1, 2, 3, 4, 5, 6, 7], "labelExpr": "datum.value % 2 == 0 ? datum.label : ''",
                   "title": "BC / SO₄²⁻", "tickSize": 4, "labelOverlap": false,
                   "labelPadding": 3, "domainColor": "#b8282a", "tickColor": "#b8282a", "labelColor": "#b8282a", "titleColor": "#b8282a", "labelFontSize": 13, "titlePadding": 6}
        }
      }
    },
    {
      "data": {"name": "ratioB", "format": {"parse": {"t": "utc:'%d/%m %H:%M'"}}},
      "mark": {"type": "line", "color": "#f2a3a3", "strokeWidth": 1, "point": {"filled": true, "size": 9, "color": "#cc1a1a"}},
      "encoding": {
        "y": {"field": "r", "type": "quantitative", "scale": {"domain": [0, 7.1], "range": [178.5, 121.7]}, "axis": null}
      }
    },
    {
      "data": {"name": "periodA", "format": {"parse": {"t": "utc:'%d/%m %H:%M'", "t2": "utc:'%d/%m %H:%M'"}}},
      "mark": {"type": "rect", "cornerRadius": 2,
               "color": {"gradient": "linear", "x1": 0, "y1": 0, "x2": 1, "y2": 0,
                         "stops": [{"offset": 0, "color": "#8c00ff"}, {"offset": 0.14, "color": "#3000ff"}, {"offset": 0.23, "color": "#0000ff"},
                                   {"offset": 0.42, "color": "#0010ff"}, {"offset": 0.51, "color": "#0038ff"}, {"offset": 0.62, "color": "#0068ff"},
                                   {"offset": 0.73, "color": "#00a0ff"}, {"offset": 0.85, "color": "#00d4ff"}, {"offset": 1, "color": "#50ffff"}]}},
      "encoding": {
        "x2": {"field": "t2"},
        "y": {"datum": 0, "type": "quantitative", "scale": {"domain": [0, 1], "range": [290, 278]}, "axis": null},
        "y2": {"datum": 1}
      }
    },
    {
      "data": {"name": "periodB", "format": {"parse": {"t": "utc:'%d/%m %H:%M'", "t2": "utc:'%d/%m %H:%M'"}}},
      "mark": {"type": "rect", "cornerRadius": 2,
               "color": {"gradient": "linear", "x1": 0, "y1": 0, "x2": 1, "y2": 0,
                         "stops": [{"offset": 0, "color": "#40ffd8"}, {"offset": 0.095, "color": "#40ff90"}, {"offset": 0.17, "color": "#30ff40"},
                                   {"offset": 0.24, "color": "#20ff10"}, {"offset": 0.34, "color": "#40ff00"}, {"offset": 0.46, "color": "#a0ff00"},
                                   {"offset": 0.56, "color": "#e0ff00"}, {"offset": 0.62, "color": "#ffff00"}, {"offset": 0.675, "color": "#ffd000"},
                                   {"offset": 0.76, "color": "#ff9000"}, {"offset": 0.85, "color": "#ff5000"}, {"offset": 0.935, "color": "#ff2000"},
                                   {"offset": 1, "color": "#ff1000"}]}},
      "encoding": {
        "x2": {"field": "t2"},
        "y": {"datum": 0, "type": "quantitative", "scale": {"domain": [0, 1], "range": [290, 278]}, "axis": null},
        "y2": {"datum": 1}
      }
    }
  ],
  "resolve": {"scale": {"y": "independent", "color": "independent"}, "axis": {"y": "independent"}}
}
